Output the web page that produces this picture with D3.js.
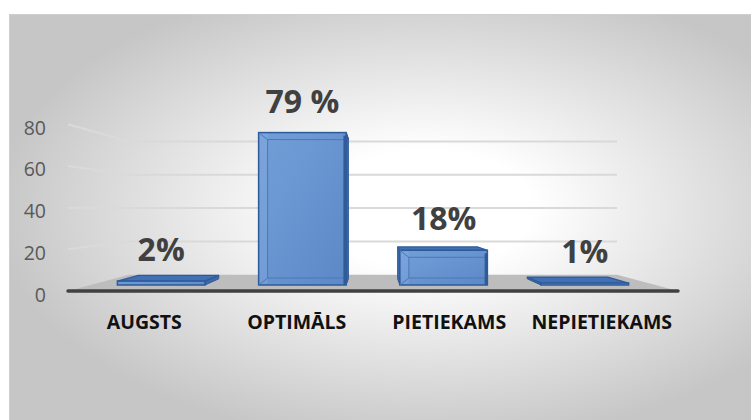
<!DOCTYPE html>
<html>
<head>
<meta charset="utf-8">
<script src="https://cdn.jsdelivr.net/npm/d3@7"></script>
<style>
  html, body { margin: 0; padding: 0; background: #ffffff; }
  svg { display: block; }
</style>
</head>
<body>
<svg id="chart" width="751" height="420"></svg>
<script>
var categories = ["AUGSTS", "OPTIMĀLS", "PIETIEKAMS", "NEPIETIEKAMS"];
var values = [2, 79, 18, 1];
var valueLabels = ["2%", "79 %", "18%", "1%"];
var yTicks = [0, 20, 40, 60, 80];

var width = 751, height = 420;
var svg = d3.select("#chart");
var defs = svg.append("defs");

// vanishing point and depth factors (1 = front of floor)
var vp = { x: 373, y: 210 };
var floorFront = 1, floorBack = 0.8, barFront = 0.926, barBack = 0.85;

function proj(x, y, s) {
    return [vp.x + (x - vp.x) * s, vp.y + (y - vp.y) * s];
}
function poly(pts) {
    return "M" + pts.map(function (p) { return p[0] + "," + p[1]; }).join("L") + "Z";
}

var x = d3.scaleBand().domain(categories).range([68, 678]).paddingInner(0.38).paddingOuter(0.19);
var y = d3.scaleLinear().domain([0, 80]).range([291, 124.3]);

// background
var bg = defs.append("radialGradient").attr("id", "bg")
    .attr("cx", "56%").attr("cy", "48%").attr("r", "58%");
bg.append("stop").attr("offset", "0%").attr("stop-color", "#ffffff");
bg.append("stop").attr("offset", "25%").attr("stop-color", "#ffffff");
bg.append("stop").attr("offset", "100%").attr("stop-color", "#c6c6c6");

svg.append("rect").attr("x", 9).attr("y", 14).attr("width", width - 9).attr("height", height - 14)
    .attr("fill", "url(#bg)");
svg.append("path").attr("d", "M9.5," + height + "V14.5H" + width)
    .attr("fill", "none").attr("stroke", "#cfcfcf").attr("stroke-width", 1);

var x0 = x.range()[0], x1 = x.range()[1];

// floor
svg.append("path")
    .attr("d", poly([proj(x0, y(0), floorFront), proj(x1, y(0), floorFront),
                     proj(x1, y(0), floorBack), proj(x0, y(0), floorBack)]))
    .attr("fill", "#bdbdbd");

// gridlines: left wall + back wall
var grid = svg.append("g").attr("fill", "none").attr("stroke", "#d9d9d9").attr("stroke-width", 2);
yTicks.filter(function (t) { return t > 0; }).forEach(function (t) {
    var a = proj(x0, y(t), floorFront), b = proj(x0, y(t), floorBack), c = proj(x1, y(t), floorBack);
    grid.append("path").attr("d", "M" + a + "L" + b).attr("stroke", "#dadada");
    grid.append("path").attr("d", "M" + b + "L" + c);
});

// front edge of floor
var fl = proj(x0, y(0), floorFront), fr = proj(x1, y(0), floorFront);
svg.append("line").attr("x1", fl[0]).attr("y1", fl[1]).attr("x2", fr[0]).attr("y2", fr[1])
    .attr("stroke", "#404040").attr("stroke-width", 3.5).attr("stroke-linecap", "round");

// tick labels
svg.append("g").selectAll("text").data(yTicks).join("text")
    .attr("x", 46).attr("y", function (d) { return y(d) + 3; })
    .attr("text-anchor", "end").attr("dominant-baseline", "central")
    .attr("font-family", "'Open Sans', sans-serif").attr("font-size", 19.5)
    .attr("fill", "#595959").text(function (d) { return d; });

// bars
var fg = defs.append("linearGradient").attr("id", "barFront").attr("x1", 0).attr("y1", 0).attr("x2", 1).attr("y2", 1);
fg.append("stop").attr("offset", "0%").attr("stop-color", "#739fd8");
fg.append("stop").attr("offset", "100%").attr("stop-color", "#5c88c7");

var bars = svg.append("g");
categories.forEach(function (cat, i) {
    var bx0 = x(cat), bx1 = x(cat) + x.bandwidth();
    var yt = y(values[i]), yb = y(0);
    var g = bars.append("g");
    var sideX = (bx0 + bx1) / 2 < vp.x ? bx1 : bx0;
    g.append("path")
        .attr("d", poly([proj(sideX, yt, barFront), proj(sideX, yt, barBack), proj(sideX, yb, barBack), proj(sideX, yb, barFront)]))
        .attr("fill", "#3b69a9").attr("stroke", "#2e5a98").attr("stroke-width", 1);
    g.append("path")
        .attr("d", poly([proj(bx0, yt, barFront), proj(bx1, yt, barFront), proj(bx1, yt, barBack), proj(bx0, yt, barBack)]))
        .attr("fill", "#4170b4").attr("stroke", "#2e5a98").attr("stroke-width", 1.2).attr("stroke-linejoin", "round");
    var tl = proj(bx0, yt, barFront), br = proj(bx1, yb, barFront);
    g.append("rect").attr("x", tl[0]).attr("y", tl[1]).attr("width", br[0] - tl[0]).attr("height", br[1] - tl[1])
        .attr("fill", "url(#barFront)").attr("stroke", "#2e5b9a").attr("stroke-width", 1.5);
    if (br[1] - tl[1] > 20) {
        // soft bevel
        var ix0 = tl[0] + 9, iy0 = tl[1] + 7, ix1 = br[0] - 2, iy1 = br[1] - 7;
        g.append("rect").attr("x", tl[0] + 1).attr("y", tl[1] + 1).attr("width", 8).attr("height", br[1] - tl[1] - 2)
            .attr("fill", "#8ab0e2").attr("opacity", 0.35);
        g.append("path").attr("d", "M" + ix0 + "," + iy0 + "H" + ix1 + "M" + ix0 + "," + iy0 + "V" + iy1 + "H" + ix1
                + "M" + tl[0] + "," + tl[1] + "L" + ix0 + "," + iy0 + "M" + tl[0] + "," + br[1] + "L" + ix0 + "," + iy1)
            .attr("fill", "none").attr("stroke", "#4a78b8").attr("stroke-width", 1);
        g.append("line").attr("x1", br[0] - 1.5).attr("y1", tl[1] + 3).attr("x2", br[0] - 1.5).attr("y2", br[1])
            .attr("stroke", "#2f5b98").attr("stroke-width", 2.5);
    }
    // value label
    svg.append("text").attr("x", (tl[0] + br[0]) / 2).attr("y", tl[1] - 20)
        .attr("text-anchor", "middle")
        .attr("font-family", "'Open Sans', sans-serif").attr("font-weight", "bold").attr("font-size", 32)
        .attr("fill", "#404040").text(valueLabels[i]);
});

// category labels
svg.append("g").selectAll("text").data(categories).join("text")
    .attr("x", function (d) { return x(d) + x.bandwidth() / 2; }).attr("y", 329)
    .attr("text-anchor", "middle")
    .attr("font-family", "'Open Sans', sans-serif").attr("font-weight", "bold").attr("font-size", 19.5)
    .attr("fill", "#111111").text(function (d) { return d; });
</script>
</body>
</html>
